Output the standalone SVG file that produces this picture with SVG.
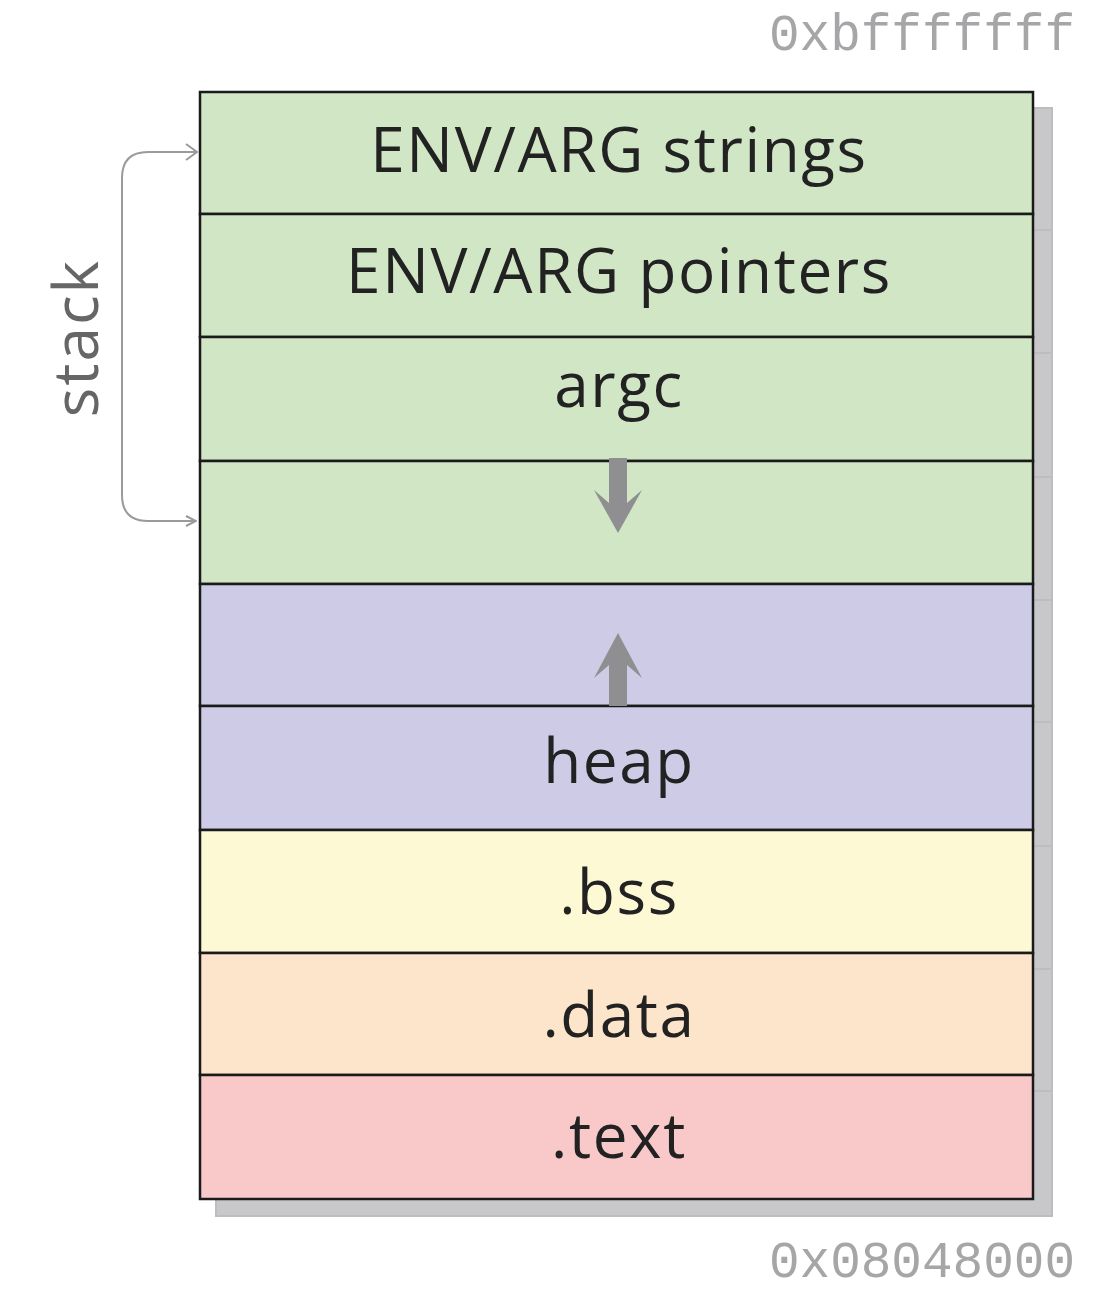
<svg xmlns="http://www.w3.org/2000/svg" width="1118" height="1294" viewBox="0 0 1118 1294">
<style>
.sh{fill:#c8c8cb;stroke:#bdbdc0;stroke-width:2}
.box{stroke:#1a1a1a;stroke-width:2.5}
.lbl{font-family:"Open Sans","DejaVu Sans",sans-serif;font-size:62px;letter-spacing:1.6px;fill:#222;text-anchor:middle}
.addr{font-family:"Liberation Mono",monospace;font-size:51px;fill:#a6a6a8;text-anchor:end}
.garrow{fill:#8f8f92}
</style>
<defs>
<marker id="ah" viewBox="0 0 12 12" refX="11" refY="6" markerWidth="12" markerHeight="12" markerUnits="userSpaceOnUse" orient="auto">
<path d="M1,1 L11,6 L1,11" fill="none" stroke="#9a9a9c" stroke-width="2"/>
</marker>
</defs>
<g id="shadow">
<rect class="sh" x="216" y="108" width="836" height="122"/>
<rect class="sh" x="216" y="230" width="836" height="123"/>
<rect class="sh" x="216" y="353" width="836" height="124"/>
<rect class="sh" x="216" y="477" width="836" height="123"/>
<rect class="sh" x="216" y="600" width="836" height="122"/>
<rect class="sh" x="216" y="722" width="836" height="124"/>
<rect class="sh" x="216" y="846" width="836" height="123"/>
<rect class="sh" x="216" y="969" width="836" height="122"/>
<rect class="sh" x="216" y="1091" width="836" height="125"/>
</g>
<g id="env-strings"><rect class="box" x="200" y="92" width="833" height="122" fill="#d0e6c5"/><text class="lbl" x="619" y="172">ENV/ARG strings</text></g>
<g id="env-pointers"><rect class="box" x="200" y="214" width="833" height="123" fill="#d0e6c5"/><text class="lbl" x="619" y="293">ENV/ARG pointers</text></g>
<g id="argc"><rect class="box" x="200" y="337" width="833" height="124" fill="#d0e6c5"/><text class="lbl" x="619" y="407">argc</text></g>
<g id="stack-free"><rect class="box" x="200" y="461" width="833" height="123" fill="#d0e6c5"/></g>
<g id="heap-free"><rect class="box" x="200" y="584" width="833" height="122" fill="#cecbe6"/></g>
<g id="heap"><rect class="box" x="200" y="706" width="833" height="124" fill="#cecbe6"/><text class="lbl" x="619" y="783">heap</text></g>
<g id="bss"><rect class="box" x="200" y="830" width="833" height="123" fill="#fef9d5"/><text class="lbl" x="619" y="914">.bss</text></g>
<g id="data"><rect class="box" x="200" y="953" width="833" height="122" fill="#fde5cb"/><text class="lbl" x="619" y="1037">.data</text></g>
<g id="text"><rect class="box" x="200" y="1075" width="833" height="124" fill="#f9c9ca"/><text class="lbl" x="619" y="1158">.text</text></g>
<g id="connectors">
<path class="garrow" d="M609,458 L627,458 L627,503 L642,490 L618,533 L594,490 L609,503 Z"/>
<path class="garrow" d="M609,706 L627,706 L627,665 L642,678 L618,633 L594,678 L609,665 Z"/>
<path d="M196,152 L148,152 Q122,152 122,178 L122,495 Q122,521 148,521 L196,521" fill="none" stroke="#9a9a9c" stroke-width="2" marker-end="url(#ah)"/>
<path d="M186,144 L197,152 L186,160" fill="none" stroke="#9a9a9c" stroke-width="2"/>
</g>
<g id="labels">
<text class="addr" x="1075" y="50">0xbfffffff</text>
<text class="addr" x="1075" y="1277">0x08048000</text>
<text x="0" y="0" transform="translate(98,338) rotate(-90)" font-family="'Open Sans','DejaVu Sans',sans-serif" font-size="62" letter-spacing="2" fill="#666" text-anchor="middle">stack</text>
</g>
</svg>
